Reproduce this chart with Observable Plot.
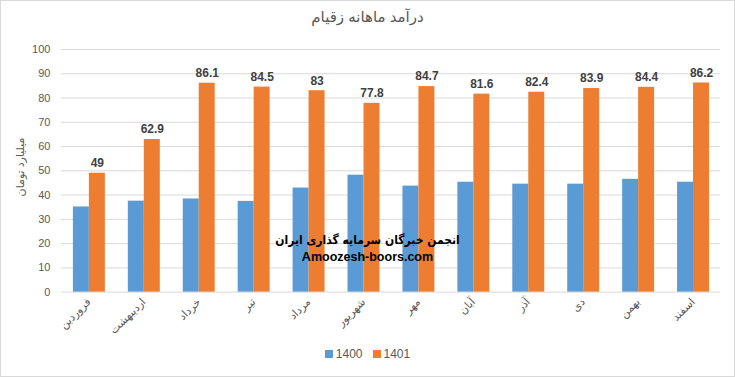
<!DOCTYPE html>
<html>
<head>
<meta charset="utf-8">
<script src="https://cdn.jsdelivr.net/npm/d3@7"></script>
<script src="https://cdn.jsdelivr.net/npm/@observablehq/plot@0.6"></script>
<style>
  html, body { margin: 0; padding: 0; background: #fff; }
  #wrap { position: relative; width: 735px; height: 377px; box-sizing: border-box; border: 1px solid #d9d9d9; font-family: "Liberation Sans", "DejaVu Sans", sans-serif; overflow: hidden; }
  #title { position: absolute; left: 0; top: 7px; width: 100%; text-align: center; font-size: 15px; color: #595959; }
  #chart { position: absolute; left: -1px; top: 30px; }
  #ylabel { position: absolute; left: 19px; top: 166px; transform: translate(-50%, -50%) rotate(-90deg); white-space: nowrap; font-size: 11px; color: #595959; }
  #legend { position: absolute; left: 0; top: 346px; width: 100%; text-align: center; font-size: 12px; color: #595959; }
  #legend span.sw { display: inline-block; width: 8px; height: 8px; margin-right: 3px; vertical-align: 0px; }
  #legend span.item { margin: 0 5px; }
  #wm { position: absolute; left: 0; top: 231px; width: 100%; text-align: center; color: #000; font-weight: bold; line-height: 17px; pointer-events: none; }
</style>
</head>
<body>
<div id="wrap">
  <div id="title"></div>
  <div id="chart"></div>
  <div id="ylabel" dir="rtl"></div>
  <div id="wm"><div style="font-size:12px; font-family:'DejaVu Sans Condensed','DejaVu Sans',sans-serif" dir="rtl">انجمن خبرگان سرمایه گذاری ایران</div><div style="font-size:12.5px">Amoozesh-boors.com</div></div>
  <div id="legend"></div>
</div>
<script>
const title = "درآمد ماهانه زقیام";
const yLabel = "میلیارد تومان";
const months = ["فروردین", "اردیبهشت", "خرداد", "تیر", "مرداد", "شهریور", "مهر", "آبان", "آذر", "دی", "بهمن", "اسفند"];
const series = ["1400", "1401"];
const values1400 = [35.1, 37.5, 38.4, 37.4, 42.9, 48.2, 43.7, 45.3, 44.5, 44.5, 46.5, 45.3];
const values1401 = [49, 62.9, 86.1, 84.5, 83, 77.8, 84.7, 81.6, 82.4, 83.9, 84.4, 86.2];
const yTicks = [0, 10, 20, 30, 40, 50, 60, 70, 80, 90, 100];
const colors = ["#5B9BD5", "#ED7D31"];

const data = months.flatMap((m, i) => [
  {month: m, series: series[0], value: values1400[i]},
  {month: m, series: series[1], value: values1401[i]}
]);

document.getElementById("title").textContent = title;
document.getElementById("ylabel").textContent = yLabel;

const chart = Plot.plot({
  width: 735,
  height: 310,
  marginTop: 18,
  marginBottom: 49,
  marginLeft: 59,
  marginRight: 12,
  style: {fontFamily: "'Liberation Sans', 'DejaVu Sans', sans-serif", fontSize: "11px", color: "#595959", background: "transparent"},
  fx: {domain: months, padding: 0, label: null, axis: "bottom", tickRotate: -45, tickSize: 0, tickPadding: 8},
  x: {domain: series, paddingInner: 0, paddingOuter: 0.7, axis: null},
  y: {domain: [0, 100], ticks: yTicks, label: null, tickSize: 0, tickPadding: 11},
  color: {domain: series, range: colors},
  marks: [
    Plot.ruleY(yTicks, {stroke: "#d9d9d9", strokeWidth: 1}),
    Plot.barY(data, {fx: "month", x: "series", y: "value", fill: "series"}),
    Plot.text(data.filter(d => d.series === series[1]), {fx: "month", x: "series", y: "value", text: d => String(d.value), dy: -10, fontWeight: "bold", fill: "#404040", fontSize: 12})
  ]
});
document.getElementById("chart").appendChild(chart);

const legend = document.getElementById("legend");
series.forEach((s, i) => {
  const item = document.createElement("span");
  item.className = "item";
  item.innerHTML = `<span class="sw" style="background:${colors[i]}"></span>${s}`;
  legend.appendChild(item);
});
</script>
</body>
</html>
